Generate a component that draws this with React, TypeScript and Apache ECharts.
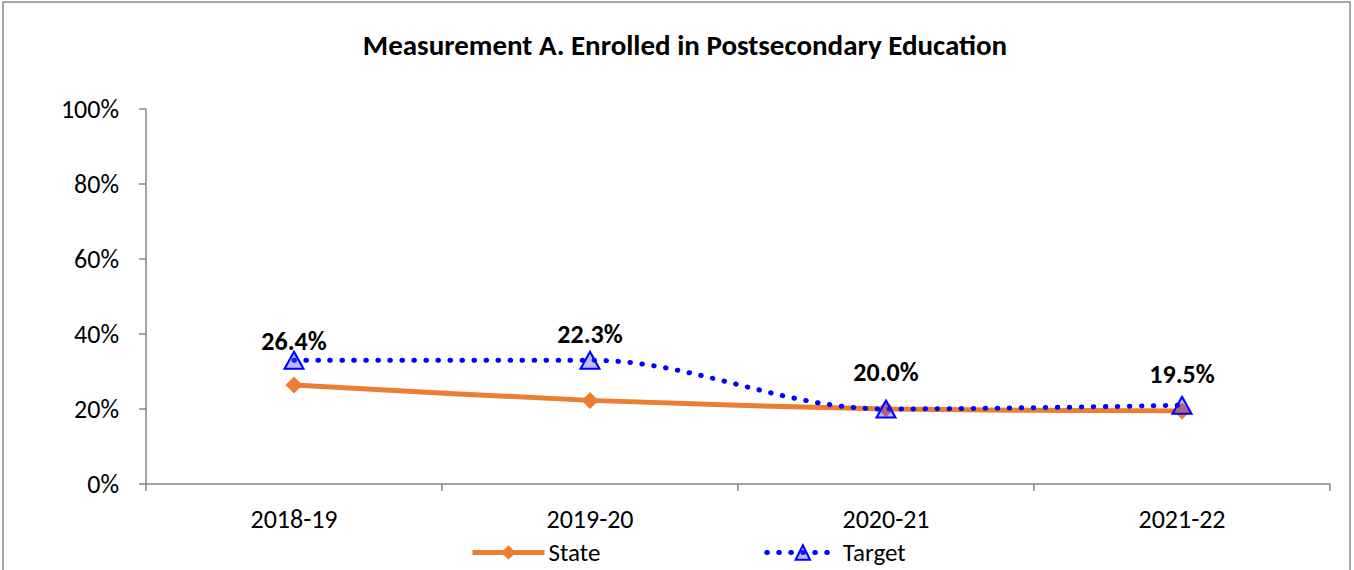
import React, { useEffect, useRef } from "react";
import * as echarts from "echarts";

const categories = ["2018-19", "2019-20", "2020-21", "2021-22"];
const stateValues = [26.4, 22.3, 20.0, 19.5];
const targetValues = [33, 33, 20, 21];
const yTicks = [0, 20, 40, 60, 80, 100];
// vertical nudge (px) for each state value label so it sits above the target marker
const stateLabelLift = [-15, -37, -8, -7];

const FONT = "Carlito, Lato, 'Open Sans', sans-serif";

export default function App() {
  const ref = useRef<HTMLDivElement>(null);

  useEffect(() => {
    if (!ref.current) return;
    const chart = echarts.init(ref.current, null, { renderer: "svg" });
    chart.setOption({
      animation: false,
      backgroundColor: "#ffffff",
      textStyle: { fontFamily: FONT },
      title: {
        text: "Measurement A. Enrolled in Postsecondary Education",
        left: 680,
        textAlign: "center",
        top: 25,
        textStyle: { fontFamily: FONT, fontSize: 29, fontWeight: "bold", color: "#000" },
      },
      graphic: [
        {
          type: "rect",
          shape: { x: 3, y: 2, width: 1347, height: 580 },
          style: { fill: "none", stroke: "#8c8c8c", lineWidth: 1.5 },
          silent: true,
        },
      ],
      legend: {
        left: 470,
        top: 540,
        itemWidth: 72,
        itemHeight: 18,
        itemGap: 164,
        padding: 0,
        lineStyle: { width: 5 },
        textStyle: { fontFamily: FONT, fontSize: 25, color: "#000", padding: [0, 0, 0, -1] },
        data: ["State", "Target"],
      },
      grid: { left: 146, right: 24, top: 109, bottom: 86 },
      xAxis: {
        type: "category",
        data: categories,
        boundaryGap: true,
        axisLine: { lineStyle: { color: "#868686", width: 1.5 } },
        axisTick: { show: true, length: 7, inside: false, lineStyle: { color: "#868686", width: 1.5 } },
        axisLabel: { fontFamily: FONT, fontSize: 26, color: "#000", margin: 22 },
      },
      yAxis: {
        type: "value",
        min: yTicks[0],
        max: yTicks[yTicks.length - 1],
        interval: yTicks[1] - yTicks[0],
        splitLine: { show: false },
        axisLine: { show: true, lineStyle: { color: "#868686", width: 1.5 } },
        axisTick: { show: true, length: 7, lineStyle: { color: "#868686", width: 1.5 } },
        axisLabel: { fontFamily: FONT, fontSize: 26, color: "#000", margin: 27, formatter: "{value}%" },
      },
      series: [
        {
          name: "State",
          type: "line",
          smooth: 0.25,
          data: stateValues.map((v, i) => ({
            value: v,
            label: { offset: [0, stateLabelLift[i]] },
          })),
          symbol: "diamond",
          symbolSize: 17,
          itemStyle: { color: "#ED7D31" },
          lineStyle: { color: "#ED7D31", width: 5 },
          label: {
            show: true,
            position: "top",
            distance: 8,
            formatter: (p: any) => p.value.toFixed(1) + "%",
            fontFamily: FONT,
            fontSize: 26,
            fontWeight: "bold",
            color: "#000",
          },
          z: 2,
        },
        {
          name: "Target",
          type: "line",
          smooth: 0.35,
          data: targetValues,
          symbol: "triangle",
          symbolSize: [19, 17],
          itemStyle: { color: "rgba(60,60,255,0.35)", borderColor: "#0000ff", borderWidth: 2 },
          lineStyle: { color: "#0000ff", width: 5, type: [0.5, 11.5], cap: "round" },
          z: 3,
        },
      ],
    });
    return () => chart.dispose();
  }, []);

  return (
    <div
      ref={ref}
      style={{ position: "absolute", left: 0, top: 0, width: 1354, height: 570 }}
    />
  );
}
